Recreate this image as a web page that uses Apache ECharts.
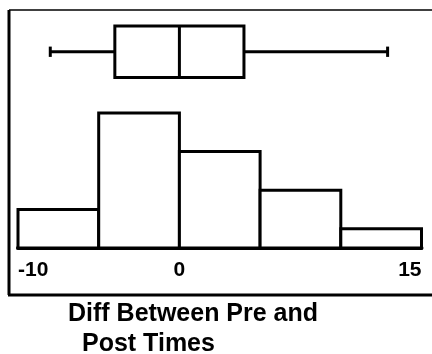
<!DOCTYPE html>
<html>
<head>
<meta charset="utf-8">
<script src="https://cdn.jsdelivr.net/npm/echarts@6/dist/echarts.min.js"></script>
<style>html,body{margin:0;padding:0;background:#fff;}#c{width:432px;height:354px;}</style>
</head>
<body>
<div id="c"></div>
<script>
// Data
var binStarts = [-10, -5, 0, 5, 10];
var binEnds = [-5, 0, 5, 10, 15];
var counts = [2, 7, 5, 3, 1];
// five-number summary: min, Q1, median, Q3, max
var boxStats = [-8, -4, 0, 4, 12.9];
var tickLabels = [-10, 0, 15];
var titleLine1 = 'Diff Between Pre and';
var titleLine2 = 'Post Times';

var histData = binStarts.map(function (s, i) { return [s, binEnds[i], counts[i]]; });

var chart = echarts.init(document.getElementById('c'), null, { renderer: 'canvas' });
var font = '"Liberation Sans", Arial, sans-serif';

chart.setOption({
  animation: false,
  backgroundColor: '#fff',
  title: [
    { text: titleLine1, left: 68, top: 302, padding: 0, textStyle: { fontFamily: font, fontWeight: 'bold', fontSize: 25, color: '#000' } },
    { text: titleLine2, left: 82, top: 332, padding: 0, textStyle: { fontFamily: font, fontWeight: 'bold', fontSize: 25, color: '#000' } }
  ],
  grid: [
    { left: 18, right: 10.5, top: 113, bottom: 106 },
    { left: 18, right: 10.5, top: 26, height: 51.5 }
  ],
  xAxis: [
    {
      gridIndex: 0, type: 'value', min: -10, max: 15,
      axisLine: { show: true, onZero: false, lineStyle: { color: '#000', width: 4 } },
      axisTick: { show: false },
      splitLine: { show: false },
      axisLabel: {
        customValues: tickLabels,
        alignMinLabel: 'left', alignMaxLabel: 'right',
        margin: 12,
        fontFamily: font, fontWeight: 'bold', fontSize: 21, color: '#000'
      }
    },
    { gridIndex: 1, type: 'value', min: -10, max: 15, show: false }
  ],
  yAxis: [
    { gridIndex: 0, type: 'value', min: 0, max: 7, show: false },
    { gridIndex: 1, type: 'value', min: 0, max: 1, show: false }
  ],
  graphic: [
    { type: 'line', shape: { x1: 9, y1: 10, x2: 9, y2: 295 }, style: { stroke: '#000', lineWidth: 3 } },
    { type: 'line', shape: { x1: 9, y1: 10, x2: 432, y2: 10 }, style: { stroke: '#000', lineWidth: 1.6 } },
    { type: 'line', shape: { x1: 8, y1: 295, x2: 432, y2: 295 }, style: { stroke: '#000', lineWidth: 3 } }
  ],
  series: [
    {
      type: 'custom', xAxisIndex: 0, yAxisIndex: 0,
      data: histData,
      encode: { x: [0, 1], y: 2 },
      renderItem: function (params, api) {
        var p1 = api.coord([api.value(0), api.value(2)]);
        var p2 = api.coord([api.value(1), 0]);
        return {
          type: 'rect',
          shape: { x: p1[0], y: p1[1], width: p2[0] - p1[0], height: p2[1] - p1[1] },
          style: { fill: '#fff', stroke: '#000', lineWidth: 3 }
        };
      },
      z: 1
    },
    {
      type: 'custom', xAxisIndex: 1, yAxisIndex: 1,
      data: [boxStats],
      encode: { x: [0, 1, 2, 3, 4] },
      renderItem: function (params, api) {
        var mn = api.value(0), q1 = api.value(1), md = api.value(2), q3 = api.value(3), mx = api.value(4);
        var a = api.coord([mn, 0.5]), b = api.coord([q1, 0.5]), c = api.coord([q3, 0.5]), d = api.coord([mx, 0.5]);
        var bt = api.coord([q1, 1]), bb = api.coord([q3, 0]);
        var mt = api.coord([md, 1]), mb = api.coord([md, 0]);
        var capT = api.coord([mn, 0.6])[1], capB = api.coord([mn, 0.4])[1];
        var st = { stroke: '#000', lineWidth: 3, fill: null };
        return {
          type: 'group',
          children: [
            { type: 'line', shape: { x1: a[0], y1: a[1], x2: b[0], y2: b[1] }, style: st },
            { type: 'line', shape: { x1: c[0], y1: c[1], x2: d[0], y2: d[1] }, style: st },
            { type: 'line', shape: { x1: a[0], y1: capT, x2: a[0], y2: capB }, style: st },
            { type: 'line', shape: { x1: d[0], y1: capT, x2: d[0], y2: capB }, style: st },
            { type: 'rect', shape: { x: bt[0], y: bt[1], width: bb[0] - bt[0], height: bb[1] - bt[1] }, style: { fill: '#fff', stroke: '#000', lineWidth: 3 } },
            { type: 'line', shape: { x1: mt[0], y1: mt[1], x2: mb[0], y2: mb[1] }, style: st }
          ]
        };
      }
    }
  ]
});
</script>
</body>
</html>
